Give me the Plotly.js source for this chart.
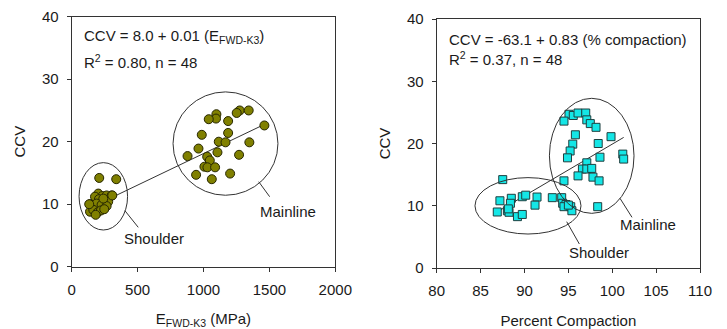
<!DOCTYPE html>
<html>
<head>
<meta charset="utf-8">
<script src="https://cdn.plot.ly/plotly-3.0.1.min.js"></script>
<style>html,body{margin:0;padding:0;background:#fff;}#chart{width:727px;height:329px;}</style>
</head>
<body>
<div id="chart"></div>
<script>
// ---- Left panel data (E_FWD-K3 vs CCV) ----
const leftMainlineE = [1098,1095,1040,1275,1252,1343,1187,1462,987,1187,1116,1167,1348,962,879,1028,1106,1048,1270,1007,1030,1088,944,1063,1202];
const leftMainlineCCV = [24.4,23.7,23.6,25.0,24.6,25.0,23.3,22.6,21.1,21.4,20.0,19.9,19.9,18.9,17.7,17.6,18.3,17.0,17.9,16.0,15.9,15.9,14.7,14.0,14.9];
const leftShoulderE = [209,338,202,232,265,303,177,207,252,277,139,189,227,265,139,164,197,222,247,182,133,240,308];
const leftShoulderCCV = [14.2,14.0,11.7,11.3,11.4,11.4,11.2,10.8,10.7,10.4,10.0,10.1,9.9,9.7,8.8,9.1,8.7,9.0,9.2,8.3,10.0,10.9,11.4];
const leftFit = {intercept: 8.0, slope: 0.0101};

// ---- Right panel data (Percent Compaction vs CCV) ----
const rightMainlinePC = [95.07,95.56,96.1,96.98,94.5,97.1,97.5,98.15,95.8,99.86,95.5,98.4,95.2,101.2,101.3,94.9,98.6,97.1,96.6,97.1,97.66,96.1,97.8,98.5,94.5,98.34];
const rightMainlineCCV = [24.7,24.5,24.9,24.9,23.6,23.8,23.2,22.6,21.4,21.1,19.9,20.0,18.8,18.3,17.5,17.7,17.8,16.9,15.9,15.9,16.0,14.8,14.6,14.0,14.0,9.85];
const rightShoulderPC = [87.52,87.2,86.9,88.5,88.4,88.05,88.24,88.16,89.2,89.75,89.75,90.14,91.43,91.2,93.17,94.24,94.35,94.73,94.5,95.27,95.4,95.0];
const rightShoulderCCV = [14.2,10.8,9.0,11.2,10.4,9.2,8.95,9.5,8.25,8.6,11.45,11.7,11.4,10.1,11.3,11.3,10.4,10.2,9.85,9.85,9.2,10.1];
const rightFit = {intercept: -63.1, slope: 0.83};

// ---- Tick values ----
const leftXTicks = [0,500,1000,1500,2000];
const rightXTicks = [80,85,90,95,100,105,110];
const yTicks = [0,10,20,30,40];

// ---- Group outlines (center x, center y, radius x, radius y) ----
const leftGroupCenterX = [1167, 240];
const leftGroupCenterY = [19.7, 11.26];
const leftGroupRadiusX = [398, 184];
const leftGroupRadiusY = [8.27, 5.39];
const rightGroupCenterX = [97.66, 90.4];
const rightGroupCenterY = [18.02, 9.99];
const rightGroupRadiusX = [4.82, 6.04];
const rightGroupRadiusY = [9.24, 4.53];
const groupNames = ['Mainline', 'Shoulder'];

// leader lines [x0, y0, x1, y1] and label positions
const leftLeaderX0 = [1419, 404], leftLeaderY0 = [13.6, 8.96], leftLeaderX1 = [1502, 505], leftLeaderY1 = [11.2, 6.3];
const leftLabelX = [1642, 627], leftLabelY = [8.8, 4.54];
const rightLeaderX0 = [100.88, 94.81], rightLeaderY0 = [11.2, 7.44], rightLeaderX1 = [102.25, 96.25], rightLeaderY1 = [8.14, 3.86];
const rightLabelX = [104.11, 98.47], rightLabelY = [6.91, 2.46];

const FONT = 'Liberation Sans, Arial, sans-serif';
const TXT = '#1a1a1a';
const LINE = '#333333';

function fitLine(xs, fit) {
  const lo = Math.min(...xs), hi = Math.max(...xs);
  return {x: [lo, hi], y: [fit.intercept + fit.slope * lo, fit.intercept + fit.slope * hi]};
}
const leftAllE = leftMainlineE.concat(leftShoulderE);
const rightAllPC = rightMainlinePC.concat(rightShoulderPC);
const lf = fitLine(leftAllE, leftFit);
const rf = fitLine(rightAllPC, rightFit);

const traces = [
  {x: lf.x, y: lf.y, xaxis: 'x', yaxis: 'y', mode: 'lines', line: {color: LINE, width: 1}, hoverinfo: 'skip'},
  {x: rf.x, y: rf.y, xaxis: 'x2', yaxis: 'y2', mode: 'lines', line: {color: LINE, width: 1}, hoverinfo: 'skip'},
  {x: leftAllE, y: leftMainlineCCV.concat(leftShoulderCCV), xaxis: 'x', yaxis: 'y', mode: 'markers',
   marker: {symbol: 'circle', size: 9, color: '#808000', line: {color: '#262600', width: 1}}},
  {x: rightAllPC, y: rightMainlineCCV.concat(rightShoulderCCV), xaxis: 'x2', yaxis: 'y2', mode: 'markers',
   marker: {symbol: 'square', size: 8, color: '#14e6e6', line: {color: '#1f3f3f', width: 1}}}
];

const shapes = [];
const annotations = [];
function addGroups(xr, yr, cx, cy, rx, ry, lx0, ly0, lx1, ly1, tx, ty) {
  for (let i = 0; i < cx.length; i++) {
    shapes.push({type: 'circle', xref: xr, yref: yr, x0: cx[i] - rx[i], x1: cx[i] + rx[i], y0: cy[i] - ry[i], y1: cy[i] + ry[i],
      line: {color: LINE, width: 1}});
    shapes.push({type: 'line', xref: xr, yref: yr, x0: lx0[i], y0: ly0[i], x1: lx1[i], y1: ly1[i], line: {color: LINE, width: 1}});
    annotations.push({xref: xr, yref: yr, x: tx[i], y: ty[i], text: groupNames[i], showarrow: false,
      xanchor: 'center', yanchor: 'middle', font: {family: FONT, size: 15, color: TXT}});
  }
}
addGroups('x', 'y', leftGroupCenterX, leftGroupCenterY, leftGroupRadiusX, leftGroupRadiusY,
  leftLeaderX0, leftLeaderY0, leftLeaderX1, leftLeaderY1, leftLabelX, leftLabelY);
addGroups('x2', 'y2', rightGroupCenterX, rightGroupCenterY, rightGroupRadiusX, rightGroupRadiusY,
  rightLeaderX0, rightLeaderY0, rightLeaderX1, rightLeaderY1, rightLabelX, rightLabelY);

const eqFont = {family: FONT, size: 15, color: TXT};
annotations.push({xref: 'x', yref: 'y', x: 76, y: 36.8, xanchor: 'left', yanchor: 'middle', showarrow: false,
  text: 'CCV = 8.0 + 0.01 (E<sub>FWD-K3</sub>)', font: eqFont});
annotations.push({xref: 'x', yref: 'y', x: 76, y: 32.9, xanchor: 'left', yanchor: 'middle', showarrow: false,
  text: 'R<sup>2</sup> = 0.80, n = 48', font: eqFont});
annotations.push({xref: 'x2', yref: 'y2', x: 81.14, y: 36.74, xanchor: 'left', yanchor: 'middle', showarrow: false,
  text: 'CCV = -63.1 + 0.83 (% compaction)', font: eqFont});
annotations.push({xref: 'x2', yref: 'y2', x: 81.14, y: 33.7, xanchor: 'left', yanchor: 'middle', showarrow: false,
  text: 'R<sup>2</sup> = 0.37, n = 48', font: eqFont});

const tickFont = {family: FONT, size: 15, color: TXT};
const titleFont = {family: FONT, size: 15, color: TXT};
function axis(extra) {
  return Object.assign({
    showline: true, mirror: true, linecolor: LINE, linewidth: 1, showgrid: false, zeroline: false,
    ticks: 'outside', ticklen: 4, tickcolor: LINE, tickwidth: 1, tickfont: tickFont, fixedrange: true
  }, extra);
}

const layout = {
  width: 727, height: 329, showlegend: false,
  paper_bgcolor: '#ffffff', plot_bgcolor: '#ffffff',
  margin: {l: 0, r: 0, t: 0, b: 0},
  xaxis: axis({domain: [0.0986, 0.4612], range: [0, 2000], tickvals: leftXTicks, anchor: 'y', ticklabelstandoff: 5,
    title: {text: 'E<sub>FWD-K3</sub> (MPa)', font: titleFont, standoff: 17}}),
  yaxis: axis({domain: [0.1894, 0.9492], range: [0, 40], tickvals: yTicks, anchor: 'x', ticklabelstandoff: 5,
    title: {text: 'CCV', font: titleFont, standoff: 12}}),
  xaxis2: axis({domain: [0.6007, 0.9629], range: [80, 110], tickvals: rightXTicks, anchor: 'y2', ticklabelstandoff: 5,
    title: {text: 'Percent Compaction', font: titleFont, standoff: 17}}),
  yaxis2: axis({domain: [0.1854, 0.9422], range: [0, 40], tickvals: yTicks, anchor: 'x2', ticklabelstandoff: 5,
    title: {text: 'CCV', font: titleFont, standoff: 12}}),
  shapes: shapes,
  annotations: annotations
};

Plotly.newPlot('chart', traces, layout, {displayModeBar: false, staticPlot: true});
</script>
</body>
</html>
